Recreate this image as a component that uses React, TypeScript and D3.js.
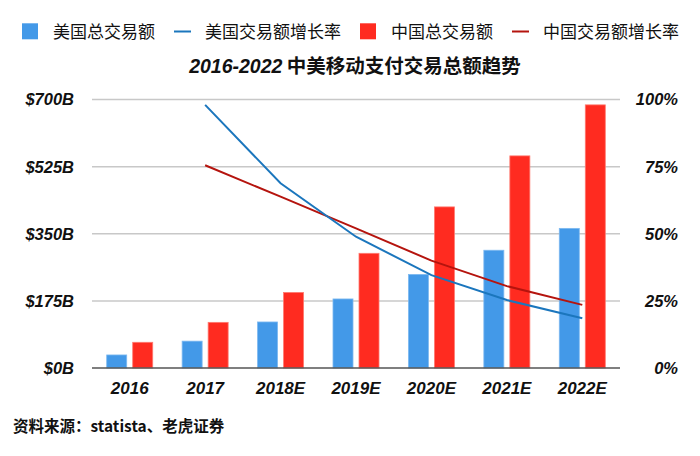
import React from "react";
import * as d3 from "d3";

const categories = ["2016", "2017", "2018E", "2019E", "2020E", "2021E", "2022E"];
const usTotal = [34, 70, 120, 180, 244, 307, 364];
const cnTotal = [67, 119, 197, 299, 420, 553, 686];
const usGrowth: (number | null)[] = [null, 0.98, 0.688, 0.489, 0.346, 0.253, 0.185];
const cnGrowth: (number | null)[] = [null, 0.755, 0.638, 0.52, 0.40, 0.305, 0.235];
const leftTicks = [0, 175, 350, 525, 700];
const rightTicks = [0, 0.25, 0.5, 0.75, 1];
const legendItems = [
  { label: "美国总交易额", kind: "rect", color: "#4399E8" },
  { label: "美国交易额增长率", kind: "line", color: "#1B76BD" },
  { label: "中国总交易额", kind: "rect", color: "#FF2B20" },
  { label: "中国交易额增长率", kind: "line", color: "#B5140E" },
];
const titleNum = "2016-2022";
const titleText = " 中美移动支付交易总额趋势";
const sourceText = "资料来源：statista、老虎证券";

const W = 700;
const H = 456;
const left = 92;
const right = 620;
const top = 99.5;
const bottom = 368;
const FONT = "'Liberation Sans', Arial, 'Noto Sans CJK SC', sans-serif";
const CJK = "'Noto Sans CJK SC', 'Liberation Sans', sans-serif";

export default function App() {
  const x0 = d3
    .scaleBand<string>()
    .domain(categories)
    .range([left, right])
    .paddingInner(0.39)
    .paddingOuter(0.195);
  const x1 = d3
    .scaleBand<string>()
    .domain(["us", "cn"])
    .range([0, x0.bandwidth()])
    .paddingInner(0.2308);
  const yL = d3.scaleLinear().domain([0, 700]).range([bottom, top]);
  const yR = d3.scaleLinear().domain([0, 1]).range([bottom, top]);
  const cx = (c: string) => (x0(c) as number) + x0.bandwidth() / 2;

  const line = d3
    .line<number | null>()
    .defined((d) => d != null)
    .x((_, i) => cx(categories[i]))
    .y((d) => yR(d as number));

  let lx = 22;
  const legendPos = legendItems.map((it) => {
    const sx = lx;
    const tx = sx + 16 + 15;
    const tw = it.label.length * 17;
    lx = tx + tw + 19;
    return { ...it, sx, tx };
  });

  return (
    <svg width={W} height={H} style={{ position: "absolute", left: 0, top: 0, background: "#fff" }}>
      <rect width={W} height={H} fill="#fff" />
      {legendPos.map((it) => (
        <g key={it.label}>
          {it.kind === "rect" ? (
            <rect x={it.sx} y={23.3} width={16} height={16} fill={it.color} />
          ) : (
            <line x1={it.sx} x2={it.sx + 17} y1={31.5} y2={31.5} stroke={it.color} strokeWidth={2} />
          )}
          <text x={it.tx} y={31.5} dy="0.36em" fontFamily={CJK} fontSize={17} fill="#111">
            {it.label}
          </text>
        </g>
      ))}
      <text x={355} y={72.5} textAnchor="middle" fontFamily={FONT} fontSize={19.5} fontWeight="bold" fill="#111">
        <tspan fontStyle="italic">{titleNum}</tspan>
        <tspan fontFamily={CJK}>{titleText}</tspan>
      </text>
      {leftTicks.slice(1).map((t) => (
        <line key={t} x1={left} x2={right} y1={yL(t)} y2={yL(t)} stroke="#c8c8c8" strokeWidth={1.5} />
      ))}
      {categories.map((c, i) => (
        <g key={c}>
          <rect
            x={(x0(c) as number) + (x1("us") as number)}
            y={yL(usTotal[i])}
            width={x1.bandwidth()}
            height={bottom - yL(usTotal[i])}
            fill="#4399E8"
            stroke="#7DB9F0"
            strokeWidth={0.8}
          />
          <rect
            x={(x0(c) as number) + (x1("cn") as number)}
            y={yL(cnTotal[i])}
            width={x1.bandwidth()}
            height={bottom - yL(cnTotal[i])}
            fill="#FF2B20"
            stroke="#FF7A70"
            strokeWidth={0.8}
          />
        </g>
      ))}
      <line x1={left} x2={right} y1={bottom} y2={bottom} stroke="#555" strokeWidth={1.5} />
      <path d={line(cnGrowth) || ""} fill="none" stroke="#B5140E" strokeWidth={2} />
      <path d={line(usGrowth) || ""} fill="none" stroke="#1B76BD" strokeWidth={2} />
      {leftTicks.map((t) => (
        <text
          key={t}
          x={74}
          y={yL(t)}
          dy="0.36em"
          textAnchor="end"
          fontFamily={FONT}
          fontSize={16.5}
          fontWeight="bold"
          fontStyle="italic"
          fill="#111"
        >
          {`$${t}B`}
        </text>
      ))}
      {rightTicks.map((t) => (
        <text
          key={t}
          x={678}
          y={yR(t)}
          dy="0.36em"
          textAnchor="end"
          fontFamily={FONT}
          fontSize={16.5}
          fontWeight="bold"
          fontStyle="italic"
          fill="#111"
        >
          {`${Math.round(t * 100)}%`}
        </text>
      ))}
      {categories.map((c) => (
        <text
          key={c}
          x={cx(c)}
          y={394}
          textAnchor="middle"
          fontFamily={FONT}
          fontSize={17}
          fontWeight="bold"
          fontStyle="italic"
          fill="#111"
        >
          {c}
        </text>
      ))}
      <text x={13} y={426} dy="0.36em" fontFamily={CJK} fontSize={15.5} fontWeight="bold" fill="#111">
        {sourceText}
      </text>
    </svg>
  );
}
